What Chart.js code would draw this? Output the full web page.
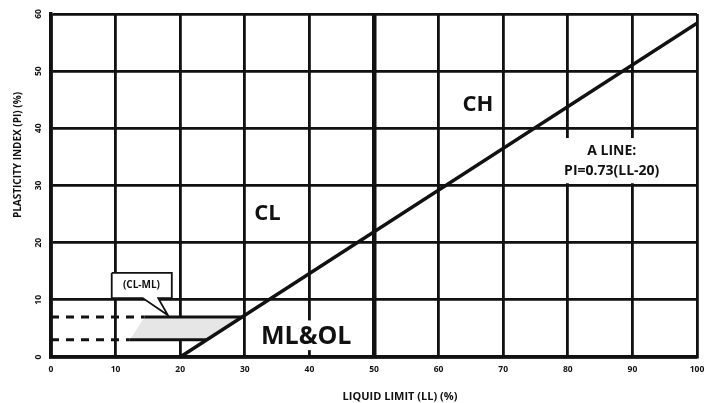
<!DOCTYPE html>
<html>
<head>
<meta charset="utf-8">
<script src="https://cdn.jsdelivr.net/npm/chart.js@4.4.1/dist/chart.umd.min.js"></script>
<style>
  html, body { margin: 0; padding: 0; background: #fff; }
  #wrap { width: 710px; height: 403px; }
</style>
</head>
<body>
<div id="wrap"><canvas id="chart" width="710" height="403"></canvas></div>
<script>
// Plasticity chart (Casagrande)
const xTicks = [0, 10, 20, 30, 40, 50, 60, 70, 80, 90, 100];
const yTicks = [0, 10, 20, 30, 40, 50, 60];

// A line: PI = 0.73 (LL - 20)
const aLine = [{ x: 20, y: 0 }, { x: 100, y: 58.4 }];

// CL-ML band
const clmlZone = [{ x: 14.5, y: 7 }, { x: 29.6, y: 7 }, { x: 24.1, y: 3 }, { x: 12.2, y: 3 }, { x: 14.5, y: 7 }];
const upperDash = [{ x: 0, y: 7 }, { x: 14.5, y: 7 }];
const upperSolid = [{ x: 14.5, y: 7 }, { x: 29.6, y: 7 }];
const lowerDash = [{ x: 0, y: 3 }, { x: 12.2, y: 3 }];
const lowerSolid = [{ x: 12.2, y: 3 }, { x: 24.1, y: 3 }];

// callout bubble pointing at the band
const callout = [
  { x: 9.4, y: 14.7 }, { x: 18.7, y: 14.7 }, { x: 18.7, y: 10.3 }, { x: 16.6, y: 10.3 },
  { x: 18.1, y: 7.3 }, { x: 14.2, y: 10.3 }, { x: 9.4, y: 10.3 }, { x: 9.4, y: 14.7 }
];
const calloutText = { text: '(CL-ML)', x: 14, y: 12.5 };

const zoneLabels = [
  { text: 'CH', x: 66.1, y: 44.2, size: 22 },
  { text: 'CL', x: 33.5, y: 25, size: 22 },
  { text: 'ML&OL', x: 39.5, y: 3.6, size: 25 }
];
const aLineLabel = { lines: ['A LINE:', 'PI=0.73(LL-20)'], x: 86.8, y: 34.2 };

// white patches behind labels (the grid is hidden there)
const maskBoxes = [
  { x0: 72, x1: 99.8, y0: 30.4, y1: 38.3 },
  { x0: 32.4, x1: 46.6, y0: 1.2, y1: 6.4 }
];

const xTitle = 'LIQUID LIMIT (LL) (%)';
const yTitle = 'PLASTICITY INDEX (PI) (%)';

const INK = '#111';

const overlay = {
  id: 'overlay',
  beforeDatasetsDraw(chart) {
    const { ctx, scales: { x, y } } = chart;
    ctx.save();
    ctx.fillStyle = '#fff';
    maskBoxes.forEach(b => {
      const l = x.getPixelForValue(b.x0), r = x.getPixelForValue(b.x1);
      const t = y.getPixelForValue(b.y1), bt = y.getPixelForValue(b.y0);
      ctx.fillRect(l, t, r - l, bt - t);
    });
    ctx.restore();
  },
  afterDraw(chart) {
    const { ctx, chartArea: area, scales: { x, y } } = chart;
    ctx.save();
    ctx.fillStyle = INK;
    ctx.textAlign = 'center';
    ctx.textBaseline = 'middle';

    // tick labels
    ctx.font = 'bold 8.5px "Open Sans"';
    xTicks.forEach(v => ctx.fillText(String(v), x.getPixelForValue(v), area.bottom + 13));
    yTicks.forEach(v => {
      ctx.save();
      ctx.translate(area.left - 12, y.getPixelForValue(v));
      ctx.rotate(-Math.PI / 2);
      ctx.fillText(String(v), 0, 0);
      ctx.restore();
    });

    // axis titles
    ctx.font = 'bold 11px "Open Sans"';
    ctx.fillText(xTitle, (area.left + area.right) / 2 + 26, area.bottom + 40);
    ctx.save();
    ctx.translate(18, 155);
    ctx.rotate(-Math.PI / 2);
    ctx.font = 'bold 10px "Open Sans"';
    ctx.fillText(yTitle, 0, 0);
    ctx.restore();

    // zone labels
    zoneLabels.forEach(l => {
      ctx.font = 'bold ' + l.size + 'px "Open Sans"';
      ctx.fillText(l.text, x.getPixelForValue(l.x), y.getPixelForValue(l.y));
    });

    // A line label
    ctx.font = 'bold 14px "Open Sans"';
    const ax = x.getPixelForValue(aLineLabel.x), ay = y.getPixelForValue(aLineLabel.y);
    ctx.fillText(aLineLabel.lines[0], ax, ay - 10);
    ctx.fillText(aLineLabel.lines[1], ax, ay + 10);

    // callout text
    ctx.font = 'bold 10px "Open Sans"';
    ctx.fillText(calloutText.text, x.getPixelForValue(calloutText.x), y.getPixelForValue(calloutText.y));
    ctx.restore();
  }
};

function lineSet(data, opts) {
  return Object.assign({
    data: data,
    showLine: true,
    borderColor: INK,
    borderWidth: 3,
    pointRadius: 0,
    fill: false,
    tension: 0
  }, opts);
}

const ctx = document.getElementById('chart').getContext('2d');
new Chart(ctx, {
  type: 'scatter',
  data: {
    datasets: [
      lineSet(aLine, { borderWidth: 3.5, order: 0 }),
      lineSet(upperSolid, { order: 1 }),
      lineSet(lowerSolid, { order: 1 }),
      lineSet(upperDash, { borderDash: [8, 7], order: 1 }),
      lineSet(lowerDash, { borderDash: [8, 7], order: 1 }),
      lineSet(callout, { borderWidth: 1.8, fill: 'shape', backgroundColor: '#fff', order: 2 }),
      lineSet(clmlZone, { borderWidth: 0, fill: 'shape', backgroundColor: '#e6e6e6', order: 3 })
    ]
  },
  options: {
    responsive: false,
    animation: false,
    layout: { padding: { left: 51, top: 14, right: 13, bottom: 46 } },
    plugins: {
      legend: { display: false },
      tooltip: { enabled: false }
    },
    scales: {
      x: {
        type: 'linear',
        min: 0,
        max: 100,
        afterBuildTicks: s => { s.ticks = xTicks.map(v => ({ value: v })); },
        ticks: { display: false },
        grid: {
          color: INK,
          drawTicks: false,
          lineWidth: c => (c.tick && c.tick.value === 50 ? 4.5 : 2.8)
        },
        border: { display: true, color: INK, width: 3.5, z: 1 }
      },
      y: {
        type: 'linear',
        min: 0,
        max: 60,
        afterBuildTicks: s => { s.ticks = yTicks.map(v => ({ value: v })); },
        ticks: { display: false },
        grid: { color: INK, drawTicks: false, lineWidth: 2.8 },
        border: { display: true, color: INK, width: 3.5, z: 1 }
      }
    }
  },
  plugins: [overlay]
});
</script>
</body>
</html>
